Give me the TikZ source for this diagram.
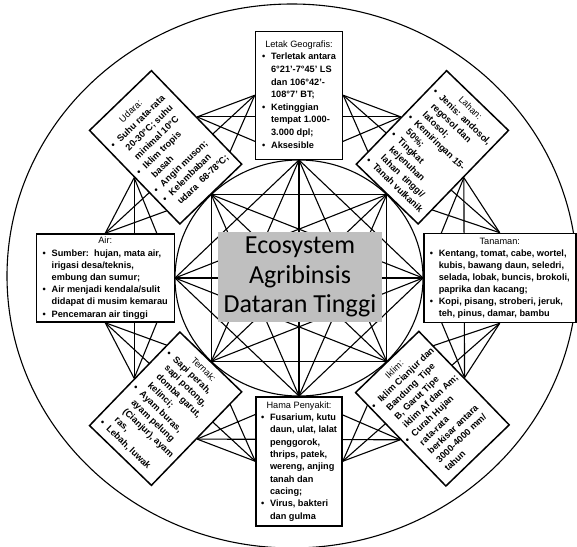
\documentclass[tikz,border=0pt]{standalone}
\usepackage{fontspec}
\setmainfont{Liberation Sans}
\newfontfamily\calfont{Carlito}
\usetikzlibrary{backgrounds}
\newcommand\bu{\makebox[9pt][l]{\textbullet}}
\newcommand\ct{\hspace*{9pt}}
\newcommand\ttl[1]{\multicolumn{1}{@{}c@{}}{\mdseries #1}}
\begin{document}
\begin{tikzpicture}[x=1pt,y=-1pt,
  frame/.style={draw=black,line width=1.5pt,fill=white,inner sep=0pt},
  txt/.style={inner sep=0pt,font=\fontsize{9.2}{#1}\selectfont\bfseries},
  txt/.default=12.2,
  lk/.style={line width=1.1pt,line join=round},
  ecobox/.style={fill={rgb,255:red,191;green,191;blue,191},inner sep=0pt,
    minimum width=164pt,minimum height=90pt,align=center,
    font=\calfont\fontsize{26}{29.5}\selectfont}]
\useasboundingbox (0,0) rectangle (577,546);
% inner circle vertices
\coordinate (ctr) at (299,278);
\coordinate (v0) at (299,160);
\coordinate (v1) at (386.7,194.6);
\coordinate (v2) at (423,278);
\coordinate (v3) at (386.7,361.4);
\coordinate (v4) at (299,396);
\coordinate (v5) at (211.3,361.4);
\coordinate (v6) at (175,278);
\coordinate (v7) at (211.3,194.6);
\coordinate (oc) at (292,276);

% ---- boxes ----
\node[frame,minimum width=87pt,minimum height=128pt,anchor=south] (letak) at (v0) {};
\node[txt=12.6] (letakT) at (letak.center) {\begin{tabular}{@{}l@{}}
\ttl{Letak Geografis:}\\
\bu Terletak antara\\
\ct 6°21’-7°45’ LS\\
\ct dan 106°42’-\\
\ct 108°7’ BT;\\
\bu Ketinggian\\
\ct tempat 1.000-\\
\ct 3.000 dpl;\\
\bu Aksesible
\end{tabular}};

\node[frame,minimum width=86pt,minimum height=129pt,anchor=north] (hama) at (v4) {};
\node[txt=12.3] (hamaT) at (hama.center) {\begin{tabular}{@{}l@{}}
\ttl{Hama Penyakit:}\\
\bu Fusarium, kutu\\
\ct daun, ulat, lalat\\
\ct penggorok,\\
\ct thrips, patek,\\
\ct wereng, anjing\\
\ct tanah dan\\
\ct cacing;\\
\bu Virus, bakteri\\
\ct dan gulma
\end{tabular}};

\node[frame,minimum width=138pt,minimum height=88pt,anchor=east] (air) at (v6) {};
\node[txt=12.2] (airT) at (air.center) {\begin{tabular}{@{}l@{}}
\ttl{Air:}\\
\bu Sumber:\ \ hujan, mata air,\\
\ct irigasi desa/teknis,\\
\ct embung dan sumur;\\
\bu Air menjadi kendala/sulit\\
\ct didapat di musim kemarau\\
\bu Pencemaran air tinggi
\end{tabular}};

\node[frame,minimum width=152pt,minimum height=89pt,anchor=west] (tanaman) at (v2) {};
\node[txt=12.0] (tanamanT) at (tanaman.center) {\begin{tabular}{@{}l@{}}
\ttl{Tanaman:}\\
\bu Kentang, tomat, cabe, wortel,\\
\ct kubis, bawang daun, seledri,\\
\ct selada, lobak, buncis, brokoli,\\
\ct paprika dan kacang;\\
\bu Kopi, pisang, stroberi, jeruk,\\
\ct teh, pinus, damar, bambu
\end{tabular}};

\node[frame,minimum width=86pt,minimum height=130pt,rotate=44,anchor=south] (udara) at (v7) {};
\node[txt=12.4,rotate=44] (udaraT) at (udara.center) {\begin{tabular}{@{}l@{}}
\ttl{Udara:}\\
\bu Suhu rata-rata\\
\ct 20-30°C; suhu\\
\ct minimal 10°C\\
\bu Iklim tropis\\
\ct basah\\
\bu Angin muson;\\
\bu Kelembaban\\
\ct udara\ \ 68-78°C;
\end{tabular}};

\node[frame,minimum width=86pt,minimum height=130pt,rotate=-44,anchor=south] (lahan) at (v1) {};
\node[txt=12.0,rotate=-44] (lahanT) at (lahan.center) {\begin{tabular}{@{}l@{}}
\ttl{Lahan:}\\
\bu Jenis: andosol,\\
\ct regosol dan\\
\ct latosol;\\
\bu Kemiringan 15-\\
\ct 50\%;\\
\bu Tingkat\\
\ct kejenuhan\\
\ct lahan\ \ tinggi/\\
\bu Tanah vulkanik
\end{tabular}};

\node[frame,minimum width=86pt,minimum height=130pt,rotate=-44,anchor=north] (ternak) at (v5) {};
\node[txt=12.0,rotate=-44] (ternakT) at (ternak.center) {\begin{tabular}{@{}l@{}}
\ttl{Ternak:}\\
\bu Sapi perah,\\
\ct sapi potong,\\
\ct domba garut,\\
\ct kelinci;\\
\bu Ayam buras,\\
\ct ayam pelung\\
\ct (Cianjur), ayam\\
\ct ras,\\
\bu Lebah, luwak
\end{tabular}};

\node[frame,minimum width=88pt,minimum height=130pt,rotate=44,anchor=north] (iklim) at (v3) {};
\node[txt=12.0,rotate=44] (iklimT) at (iklim.center) {\begin{tabular}{@{}l@{}}
\ttl{Iklim:}\\
\bu Iklim Cianjur dan\\
\ct Bandung\ \ Tipe\\
\ct B, Garut Tipe\\
\ct iklim Af dan Am;\\
\bu Curah Hujan\\
\ct rata-rata\\
\ct berkisar antara\\
\ct 3000-4000 mm/\\
\ct tahun
\end{tabular}};

\node[ecobox] (eco) at (300,277) {Ecosystem\\Agribinsis\\Dataran Tinggi};

% ---- connectors behind ----
\begin{pgfonlayer}{background}
\draw[lk] (oc) ellipse [x radius=285pt, y radius=272pt];
\draw[lk] (ctr) ellipse [x radius=124pt, y radius=118pt];
\foreach \i/\j in {0/2,1/3,2/4,3/5,4/6,5/7,6/0,7/1,0/3,1/4,2/5,3/6,4/7,5/0,6/1,7/2,0/4,1/5,2/6,3/7}
  \draw[lk] (v\i) -- (v\j);
% adjacent boxes
\draw[lk] (udara.east) -- (letak.west) (udara.east) -- (v0) (v7) -- (letak.west);
\draw[lk] (letak.east) -- (lahan.west) (letak.east) -- (v1) (v0) -- (lahan.west);
\draw[lk] (lahan.east) -- (tanaman.north) (lahan.east) -- (v2) (v1) -- (tanaman.north);
\draw[lk] (tanaman.south) -- (iklim.east) (tanaman.south) -- (v3) (v2) -- (iklim.east);
\draw[lk] (iklim.west) -- (hama.east) (iklim.west) -- (v4) (v3) -- (hama.east);
\draw[lk] (hama.west) -- (ternak.east) (hama.west) -- (v5) (v4) -- (ternak.east);
\draw[lk] (ternak.west) -- (air.south) (ternak.west) -- (v6) (v5) -- (air.south);
\draw[lk] (air.north) -- (udara.west) (air.north) -- (v7) (v6) -- (udara.west);
% outer star
\draw[lk] (udara.east) -- (lahan.west);
\draw[lk] (letak.east) -- (tanaman.north);
\draw[lk] (lahan.east) -- (iklim.east);
\draw[lk] (tanaman.south) -- (hama.east);
\draw[lk] (iklim.west) -- (ternak.east);
\draw[lk] (hama.west) -- (air.south);
\draw[lk] (ternak.west) -- (udara.west);
\draw[lk] (air.north) -- (letak.west);
\end{pgfonlayer}
\end{tikzpicture}
\end{document}
